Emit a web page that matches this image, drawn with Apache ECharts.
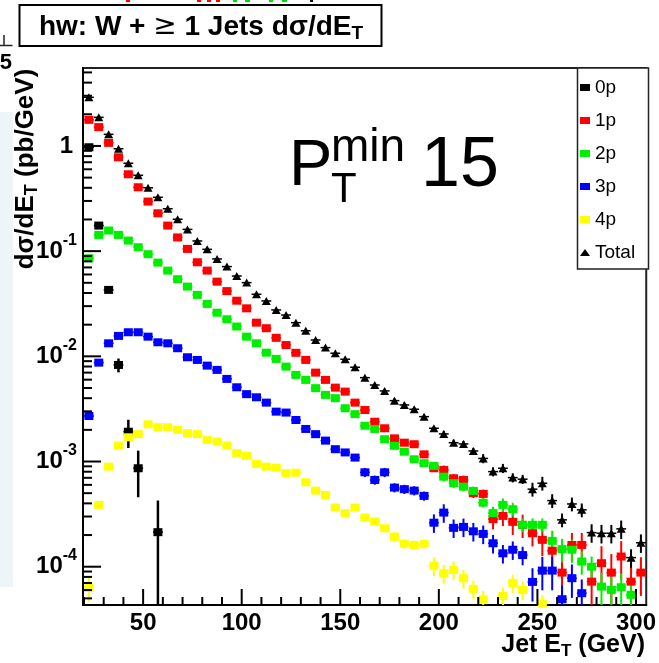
<!DOCTYPE html>
<html><head><meta charset="utf-8">
<script src="https://cdn.jsdelivr.net/npm/echarts@6/dist/echarts.min.js"></script>
<style>html,body{margin:0;padding:0;background:#fff}#c{width:659px;height:663px}</style>
</head><body><div id="c"></div>
<script>
const FONT = '"Liberation Sans", Arial, Helvetica, sans-serif';

// bin centres (GeV)
const xBins = [22.5,27.5,32.5,37.5,42.5,47.5,52.5,57.5,62.5,67.5,
  72.5,77.5,82.5,87.5,92.5,97.5,102.5,107.5,112.5,117.5,
  122.5,127.5,132.5,137.5,142.5,147.5,152.5,157.5,162.5,167.5,
  172.5,177.5,182.5,187.5,192.5,197.5,202.5,207.5,212.5,217.5,
  222.5,227.5,232.5,237.5,242.5,247.5,252.5,257.5,262.5,267.5,
  272.5,277.5,282.5,287.5,292.5,297.5,302.5];

const seriesNames = ['0p','1p','2p','3p','4p','Total'];

const p0 = [0.972,0.175,0.0428,0.00828,0.00192,0.000863,null,0.000213];
const p1 = [1.77,1.51,1.07,0.78,0.538,0.405,0.296,0.229,0.175,0.135,
  0.105,0.0784,0.0653,0.0513,0.0417,0.0338,0.0286,0.0209,0.0185,0.0150,
  0.0128,0.0108,0.00924,0.0070,0.00597,0.00504,0.00462,0.00363,0.00309,0.00239,
  0.00207,0.00166,0.00151,0.00146,0.00117,0.000863,0.000832,0.000693,0.000668,0.000500,
  0.000492,0.000283,0.000304,0.000267,0.000250,0.000208,0.000180,0.000142,0.0000879,0.000161,
  0.000161,0.0000721,0.000108,0.0000879,0.000125,0.0000721,0.0000879];
const p2 = [0.0856,0.1426,0.157,0.1426,0.126,0.109,0.0935,0.0778,0.0653,0.0541,
  0.046,0.0384,0.0315,0.026,0.0225,0.0192,0.01538,0.0133,0.01084,0.00945,
  0.00798,0.00666,0.00597,0.00498,0.0043,0.004,0.00321,0.00282,0.00219,0.00204,
  0.00163,0.00141,0.00124,0.00105,0.000964,0.000908,0.000718,0.000622,0.000577,0.000525,
  0.000406,0.000323,0.000387,0.000352,0.00025,0.00025,0.00025,0.000176,0.000147,0.000145,
  0.000112,0.0001,0.0000647,0.0000602,0.0000638,0.000054,null];
const p3 = [0.00271,0.00871,0.0133,0.01563,0.01694,0.01694,0.01538,0.0136,0.0133,0.01194,
  0.0098,0.00924,0.00816,0.00743,0.0061,0.00508,0.00437,0.00408,0.00363,0.00298,
  0.00292,0.00248,0.00204,0.00182,0.00158,0.00131,0.00122,0.00109,0.00079,0.000668,
  0.00079,0.000565,0.000546,0.000529,0.000471,0.000262,0.000327,0.000234,0.000239,0.000217,
  0.000205,0.000167,0.000134,0.000145,0.000129,0.0000717,0.0000918,0.0000918,0.0000491,0.0000778,
  0.000056,null,null,null,null,null,null];
const p4 = [0.0000628,0.000387,0.000894,0.001416,0.0017,0.00182,0.00226,0.00212,0.00212,0.002,
  0.00186,0.00182,0.0016,0.00155,0.001416,0.0012,0.00113,0.000949,0.000894,0.000875,
  0.000774,0.000784,0.000635,0.000529,0.000481,0.000365,0.000323,0.000365,0.000293,0.000269,
  0.000232,0.000193,0.000165,0.000161,0.000165,0.000102,0.0000867,0.0000933,0.0000778,0.0000615,
  0.0000491,null,0.0000527,0.0000701,0.0000602,null,0.0000447,null,null,null,
  null,null,null,null,null,null,null];
const total = [2.9,1.87,1.29,0.94,0.685,0.526,0.40,0.325,0.253,0.201,
  0.161,0.125,0.104,0.0843,0.0713,0.058,0.0502,0.0389,0.0336,0.0276,
  0.0247,0.0209,0.0175,0.0143,0.0121,0.0107,0.00938,0.00787,0.00627,0.00534,
  0.00469,0.00379,0.00345,0.00314,0.00267,0.00207,0.00183,0.00151,0.00147,0.00126,
  0.00107,0.000802,0.000863,0.000703,0.000679,0.000546,0.000622,0.000425,0.000279,0.000395,
  0.000347,0.000211,0.000208,0.000208,0.000229,0.000122,0.000169];

// relative errors (sigma / value), estimated
const errP0 = [0.01,0.02,0.05,0.15,0.3,0.47,0,1.0];
const errP1 = [0.01,0.01,0.01,0.01,0.01,0.01,0.01,0.01,0.01,0.01,
  0.01,0.01,0.01,0.01,0.01,0.01,0.01,0.01,0.01,0.01,
  0.04,0.04,0.04,0.04,0.04,0.04,0.04,0.04,0.04,0.04,
  0.07,0.07,0.07,0.07,0.07,0.07,0.1,0.1,0.1,0.1,
  0.1,0.2,0.2,0.25,0.25,0.25,0.3,0.35,0.45,0.3,
  0.3,0.5,0.45,0.5,0.4,0.45,0.4];
const errP2 = [0.01,0.01,0.01,0.01,0.01,0.01,0.01,0.01,0.01,0.01,
  0.01,0.01,0.01,0.01,0.01,0.01,0.01,0.01,0.01,0.01,
  0.04,0.04,0.04,0.04,0.04,0.04,0.04,0.04,0.04,0.04,
  0.06,0.06,0.06,0.06,0.06,0.06,0.1,0.1,0.1,0.1,
  0.1,0.15,0.15,0.15,0.15,0.15,0.15,0.25,0.25,0.25,
  0.25,0.25,0.35,0.35,0.35,0.35,0];
const errP3 = [0.02,0.02,0.02,0.02,0.02,0.02,0.02,0.02,0.02,0.02,
  0.02,0.02,0.02,0.02,0.02,0.02,0.02,0.02,0.02,0.02,
  0.05,0.05,0.05,0.05,0.05,0.05,0.05,0.05,0.1,0.1,
  0.1,0.1,0.1,0.1,0.1,0.2,0.2,0.2,0.2,0.2,
  0.2,0.2,0.2,0.2,0.2,0.35,0.35,0.35,0.35,0.35,
  0.35,0,0,0,0,0,0];
const errP4 = [0.25,0.03,0.03,0.03,0.03,0.03,0.03,0.03,0.03,0.03,
  0.03,0.03,0.03,0.03,0.03,0.03,0.03,0.03,0.03,0.03,
  0.06,0.06,0.06,0.06,0.06,0.06,0.06,0.06,0.06,0.06,
  0.06,0.1,0.1,0.1,0.1,0.2,0.2,0.2,0.2,0.2,
  0.2,0.2,0.2,0.2,0.2,0.2,0.2,0,0,0,
  0,0,0,0,0,0,0];
const errTotal = [0.01,0.01,0.01,0.01,0.01,0.01,0.01,0.01,0.01,0.01,
  0.01,0.01,0.01,0.01,0.01,0.01,0.01,0.01,0.01,0.01,
  0.03,0.03,0.03,0.03,0.03,0.03,0.03,0.03,0.03,0.03,
  0.05,0.05,0.05,0.05,0.05,0.05,0.07,0.07,0.07,0.07,
  0.1,0.1,0.1,0.1,0.1,0.15,0.15,0.15,0.15,0.15,
  0.15,0.2,0.2,0.2,0.2,0.2,0.2];

// axes
const X_MIN = 19.5, X_MAX = 305.2;
const Y_MIN = -4.364, Y_MAX = 0.741;   // log10 of the axis range
const xMajor = [50,100,150,200,250,300];
const xMinor = [20,30,40,60,70,80,90,110,120,130,140,160,170,180,190,210,220,230,240,260,270,280,290];
const yMajor = [-4,-3,-2,-1,0];
const yMinor = [];
for (let n = -5; n <= 0; n++) for (let k = 2; k <= 9; k++) {
  const v = n + Math.log10(k);
  if (v > Y_MIN && v < Y_MAX) yMinor.push(v);
}

const colors = ['#000000','#ff0000','#00ee00','#0000ff','#ffff00','#000000'];
const valueSets = [p0,p1,p2,p3,p4,total];
const errSets = [errP0,errP1,errP2,errP3,errP4,errTotal];
const symbols = ['rect','rect','rect','rect','rect','triangle'];

function pts(vals){
  const out = [];
  vals.forEach((v,i)=>{ if (v != null) out.push([xBins[i], Math.log10(v)]); });
  return out;
}
function errSeries(name, color, vals, rel, lw){
  const data = [];
  vals.forEach((v,i)=>{
    if (v == null) return;
    const e = rel[i] || 0;
    const hi = Math.log10(v*(1+e));
    const loV = v*(1-e);
    const lo = loV > 0 ? Math.max(Math.log10(loV), Y_MIN) : Y_MIN;
    data.push([xBins[i], Math.log10(v), hi, lo]);
  });
  return {
    type:'custom', name: name + ' err', z:2, clip:true, silent:true,
    renderItem:(params, api)=>{
      const x = api.value(0), y = api.value(1), hi = api.value(2), lo = api.value(3);
      const a = api.coord([x,hi]), b = api.coord([x,lo]);
      const l = api.coord([x-2.5,y]), r = api.coord([x+2.5,y]);
      return {type:'group', children:[
        {type:'line', shape:{x1:a[0],y1:a[1],x2:b[0],y2:b[1]}, style:{stroke:color, lineWidth:lw}},
        {type:'line', shape:{x1:l[0],y1:l[1],x2:r[0],y2:r[1]}, style:{stroke:color, lineWidth:1.5}}
      ]};
    },
    data
  };
}
// ROOT-style inside ticks, placed through the axis scales
const tickData = [];
xMajor.forEach(v=>tickData.push([v, Y_MIN, 0, 16]));
xMinor.forEach(v=>tickData.push([v, Y_MIN, 0, 8]));
yMajor.forEach(v=>tickData.push([X_MIN, v, 1, 18]));
yMinor.forEach(v=>tickData.push([X_MIN, v, 1, 9]));

const series = [];
seriesNames.forEach((nm, k)=>{
  series.push(errSeries(nm, colors[k], valueSets[k], errSets[k], k===0 ? 2.5 : 2));
});
seriesNames.forEach((nm, k)=>{
  series.push({
    type:'scatter', name:nm, z:3, clip:true, silent:true,
    symbol:symbols[k], symbolSize:[9,8],
    itemStyle:{color:colors[k], opacity:1},
    data: pts(valueSets[k])
  });
});
series.push({
  type:'custom', name:'axis ticks', z:5, silent:true,
  renderItem:(params, api)=>{
    const p = api.coord([api.value(0), api.value(1)]);
    const len = api.value(3);
    const horiz = api.value(2) > 0.5;
    const q = horiz ? [p[0]+len, p[1]] : [p[0], p[1]-len];
    return {type:'group', children:[
      {type:'line', shape:{x1:p[0], y1:p[1], x2:q[0], y2:q[1]}, style:{stroke:'#000000', lineWidth:2}}
    ]};
  },
  data: tickData
});

// decoration lives on its own canvas layer (zlevel 1)
const L = 1;
const staticGraphic = [
  {type:'rect', zlevel:L, z:0, shape:{x:0, y:112, width:13, height:475}, style:{fill:'#eef5f8'}},
  {type:'rect', zlevel:L, z:1, shape:{x:126, y:0, width:4, height:2}, style:{fill:'#ff0000'}},
  {type:'rect', zlevel:L, z:1, shape:{x:197, y:0, width:4, height:2}, style:{fill:'#ff0000'}},
  {type:'rect', zlevel:L, z:1, shape:{x:207, y:0, width:4, height:2}, style:{fill:'#ff0000'}},
  {type:'rect', zlevel:L, z:1, shape:{x:216, y:0, width:4, height:2}, style:{fill:'#ff0000'}},
  {type:'rect', zlevel:L, z:1, shape:{x:233, y:0, width:4, height:2}, style:{fill:'#00dd00'}},
  {type:'rect', zlevel:L, z:1, shape:{x:245, y:0, width:5, height:2}, style:{fill:'#00dd00'}},
  {type:'rect', zlevel:L, z:1, shape:{x:269, y:0, width:4, height:2}, style:{fill:'#00dd00'}},
  {type:'rect', zlevel:L, z:1, shape:{x:282, y:0, width:5, height:2}, style:{fill:'#00dd00'}},
  {type:'rect', zlevel:L, z:1, shape:{x:310, y:0, width:3, height:2}, style:{fill:'#000000'}},
  {type:'line', zlevel:L, z:1, shape:{x1:0, y1:45.5, x2:12.5, y2:45.5}, style:{stroke:'#222222', lineWidth:1.5}},
  {type:'line', zlevel:L, z:1, shape:{x1:4, y1:35, x2:4, y2:45.5}, style:{stroke:'#222222', lineWidth:1.5}},
  {type:'text', zlevel:L, z:1, x:12, y:63, style:{text:'5', fontSize:22, fontWeight:'bold', fontFamily:FONT, fill:'#000000',
    align:'right', verticalAlign:'middle'}},
  // title box
  {type:'rect', zlevel:L, z:5, shape:{x:19.5, y:5, width:362, height:41}, style:{fill:'#ffffff', stroke:'#000000', lineWidth:2}},
  {type:'text', zlevel:L, z:6, x:201, y:27, style:{
    text:'{b|hw: W + }{g|≥}{b| 1 Jets dσ/dE}{s|T}',
    align:'center', verticalAlign:'middle',
    rich:{
      b:{fontSize:28, fontWeight:'bold', fontFamily:FONT, fill:'#000000', lineHeight:32},
      g:{fontSize:28, fontWeight:'normal', fontFamily:'"DejaVu Sans", sans-serif', fill:'#000000', lineHeight:32},
      s:{fontSize:19, fontWeight:'bold', fontFamily:FONT, fill:'#000000', lineHeight:19, verticalAlign:'bottom'}
    }}},
  // legend box
  {type:'rect', zlevel:L, z:5, shape:{x:577.5, y:68, width:71, height:201}, style:{fill:'#ffffff', stroke:'#222222', lineWidth:1.5}},
  // y axis title
  {type:'text', zlevel:L, z:6, x:26, y:169, rotation:Math.PI/2, style:{
    text:'{b|dσ/dE}{s|T}{b| (pb/GeV)}',
    align:'center', verticalAlign:'middle',
    rich:{
      b:{fontSize:26, fontWeight:'bold', fontFamily:FONT, fill:'#000000', lineHeight:30},
      s:{fontSize:18, fontWeight:'bold', fontFamily:FONT, fill:'#000000', lineHeight:18, verticalAlign:'bottom'}
    }}},
  // x axis title
  {type:'text', zlevel:L, z:6, x:645, y:645, style:{
    text:'{b|Jet E}{s|T}{b| (GeV)}',
    align:'right', verticalAlign:'middle',
    rich:{
      b:{fontSize:25, fontWeight:'bold', fontFamily:FONT, fill:'#000000', lineHeight:30},
      s:{fontSize:17, fontWeight:'bold', fontFamily:FONT, fill:'#000000', lineHeight:17, verticalAlign:'bottom'}
    }}},
  // P_T^min 15
  {type:'text', zlevel:L, z:6, x:289, y:167, style:{text:'P', fontSize:65, fontFamily:FONT, fill:'#000000',
    align:'left', verticalAlign:'middle'}},
  {type:'text', zlevel:L, z:6, x:331, y:190, style:{text:'T', fontSize:42, fontFamily:FONT, fill:'#000000',
    align:'left', verticalAlign:'middle'}},
  {type:'text', zlevel:L, z:6, x:331, y:148, style:{text:'min', fontSize:46, fontFamily:FONT, fill:'#000000',
    align:'left', verticalAlign:'middle'}},
  {type:'text', zlevel:L, z:6, x:421, y:167, style:{text:'15', fontSize:70, fontFamily:FONT, fill:'#000000',
    align:'left', verticalAlign:'middle'}}
];

const chart = echarts.init(document.getElementById('c'));
chart.setOption({
  animation:false,
  backgroundColor:'#ffffff',
  grid:{left:83, right:11, top:68, bottom:58, show:true, borderColor:'#222222', borderWidth:2},
  xAxis:{type:'value', min:X_MIN, max:X_MAX,
     axisLine:{show:true, onZero:false, lineStyle:{color:'#000000', width:2}},
     axisTick:{show:false},
     axisLabel:{show:true, customValues:xMajor, margin:6, fontSize:24, fontWeight:'bold', color:'#000000', fontFamily:FONT},
     splitLine:{show:false}},
  yAxis:{type:'value', min:Y_MIN, max:Y_MAX,
     axisLine:{show:true, onZero:false, lineStyle:{color:'#000000', width:2}},
     axisTick:{show:false},
     axisLabel:{show:true, customValues:yMajor, margin:6,
       formatter:(v)=>{ const r = Math.round(v); return r===0 ? '{one|1}' : '{b|10}{s|' + r + '}'; },
       rich:{
         b:{fontSize:24, fontWeight:'bold', fontFamily:FONT, lineHeight:38, color:'#000000'},
         one:{fontSize:24, fontWeight:'bold', fontFamily:FONT, lineHeight:38, color:'#000000', padding:[0,4,0,0]},
         s:{fontSize:16, fontWeight:'bold', fontFamily:FONT, lineHeight:16, verticalAlign:'top', color:'#000000'}
       }},
     splitLine:{show:false}},
  legend:{
    data:seriesNames, orient:'vertical', left:580, top:78, padding:0, itemGap:14,
    itemWidth:10, itemHeight:7, selectedMode:false, zlevel:L, z:10,
    textStyle:{fontSize:19, lineHeight:19, fontFamily:FONT, color:'#000000'}
  },
  graphic: staticGraphic,
  series
});
</script>
</body></html>
